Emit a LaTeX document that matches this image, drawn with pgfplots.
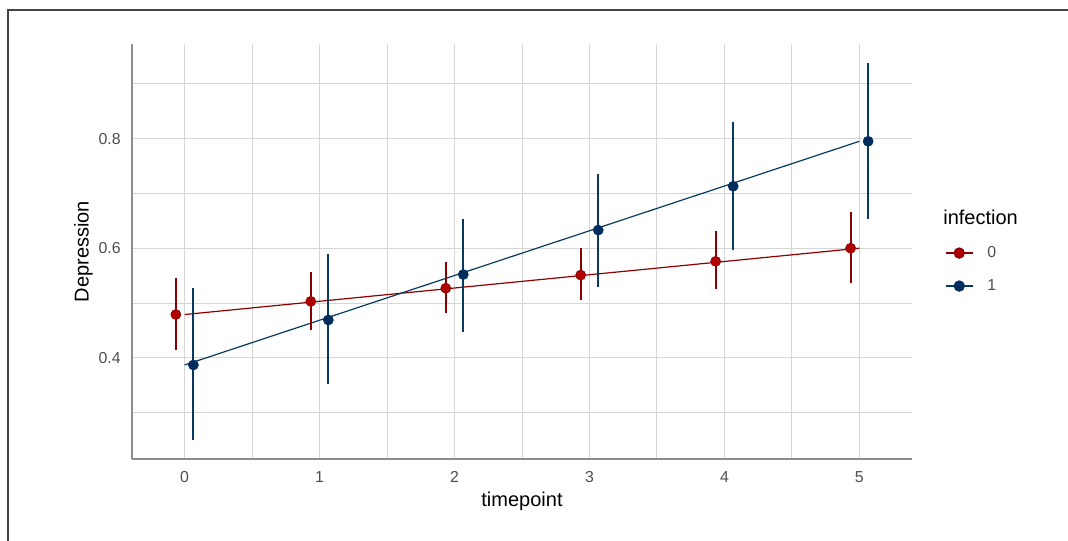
\documentclass[border=0pt]{standalone}
\usepackage{fontspec}
\setmainfont{Liberation Sans}
\usepackage{pgfplots}
\usepackage{pgfplotstable}
\pgfplotsset{compat=1.18}

\definecolor{inf0}{HTML}{8B0000}
\definecolor{inf0pt}{HTML}{B00000}
\definecolor{inf1}{HTML}{073A5E}
\definecolor{inf1pt}{HTML}{002D5E}
\definecolor{gridc}{HTML}{D6D6D6}
\definecolor{axc}{HTML}{8C8C8C}
\definecolor{tickc}{HTML}{4D4D4D}
\definecolor{framec}{HTML}{444444}

% infection = 0 (points dodged left)
\pgfplotstableread{
x      y     ep    em
-0.065 0.479 0.066 0.064
 0.935 0.503 0.053 0.053
 1.935 0.527 0.047 0.046
 2.935 0.551 0.050 0.045
 3.935 0.576 0.055 0.051
 4.935 0.600 0.066 0.064
}\redtab

% infection = 1 (points dodged right)
\pgfplotstableread{
x      y     ep    em
0.065  0.387 0.141 0.137
1.065  0.469 0.120 0.117
2.065  0.552 0.102 0.104
3.065  0.633 0.102 0.104
4.065  0.713 0.117 0.117
5.065  0.795 0.143 0.142
}\bluetab

\begin{document}
\begin{tikzpicture}
\useasboundingbox (0,0) rectangle (801pt,405.75pt);
\draw[framec, line width=1.5pt] (5.8pt,0) -- (5.8pt,398.2pt) -- (801pt,398.2pt);

\begin{axis}[
    at={(99pt,61.5pt)}, anchor=south west,
    width=585pt, height=311.25pt,
    scale only axis,
    xmin=-0.39, xmax=5.39,
    ymin=0.2155, ymax=0.9725,
    axis x line*=bottom, axis y line*=left,
    axis line style={-, draw=axc, line width=1pt},
    xtick={0,1,2,3,4,5},
    minor xtick={0.5,1.5,2.5,3.5,4.5},
    ytick={0.4,0.6,0.8},
    minor ytick={0.3,0.5,0.7,0.9},
    major tick length=0pt, minor tick length=0pt,
    grid=both,
    major grid style={gridc, line width=0.7pt},
    minor grid style={gridc, line width=0.7pt},
    /pgf/number format/assume math mode=true,
    ticklabel style={font=\fontsize{11.9}{14}\selectfont, text=tickc},
    yticklabel style={/pgf/number format/fixed, /pgf/number format/precision=1, xshift=-5pt},
    xticklabel style={yshift=-6pt},
    xlabel={timepoint}, ylabel={Depression},
    every axis x label/.style={at={(axis description cs:0.5,0)}, anchor=base, yshift=-36pt,
        font=\fontsize{15}{18}\selectfont},
    every axis y label/.style={at={(axis description cs:0,0.5)}, xshift=-36.4pt, rotate=90, anchor=center,
        font=\fontsize{15}{18}\selectfont},
    legend image code/.code={\draw[mark repeat=2, mark phase=2, #1] plot coordinates {(0pt,0pt) (10pt,0pt) (20pt,0pt)};},
    legend style={at={(1.0423,0.4566)}, anchor=west, draw=none, fill=none,
        font=\fontsize{11.9}{14}\selectfont, text=tickc,
        inner sep=0pt, nodes={inner sep=0pt}, row sep=15pt, column sep=10.5pt},
    legend cell align=left,
    clip=false,
]
% fitted lines
\addplot[inf0, line width=0.9pt, forget plot] coordinates {(0,0.479) (5,0.600)};
\addplot[inf1, line width=0.9pt, forget plot] coordinates {(0,0.387) (5,0.795)};

% estimates with intervals
\addplot[only marks, mark=*, mark size=3.75pt, mark options={fill=inf0pt, draw=inf0, line width=0.5pt}, forget plot,
    error bars/.cd, y dir=both, y explicit, error mark=none,
    error bar style={line width=1.4pt, inf0}]
    table[x=x, y=y, y error plus=ep, y error minus=em] {\redtab};
\addplot[only marks, mark=*, mark size=3.75pt, mark options={fill=inf1pt, draw=inf1pt, line width=0.5pt}, forget plot,
    error bars/.cd, y dir=both, y explicit, error mark=none,
    error bar style={line width=1.4pt, inf1}]
    table[x=x, y=y, y error plus=ep, y error minus=em] {\bluetab};

\addlegendimage{inf0, line width=1pt, mark=*, mark size=3.75pt, mark options={fill=inf0pt, draw=inf0}}
\addlegendentry{0}
\addlegendimage{inf1, line width=1pt, mark=*, mark size=3.75pt, mark options={fill=inf1pt, draw=inf1pt}}
\addlegendentry{1}
\end{axis}

\node[anchor=west, font=\fontsize{15}{18}\selectfont, inner sep=0pt] at (707.3pt,242.5pt) {infection};
\end{tikzpicture}
\end{document}
